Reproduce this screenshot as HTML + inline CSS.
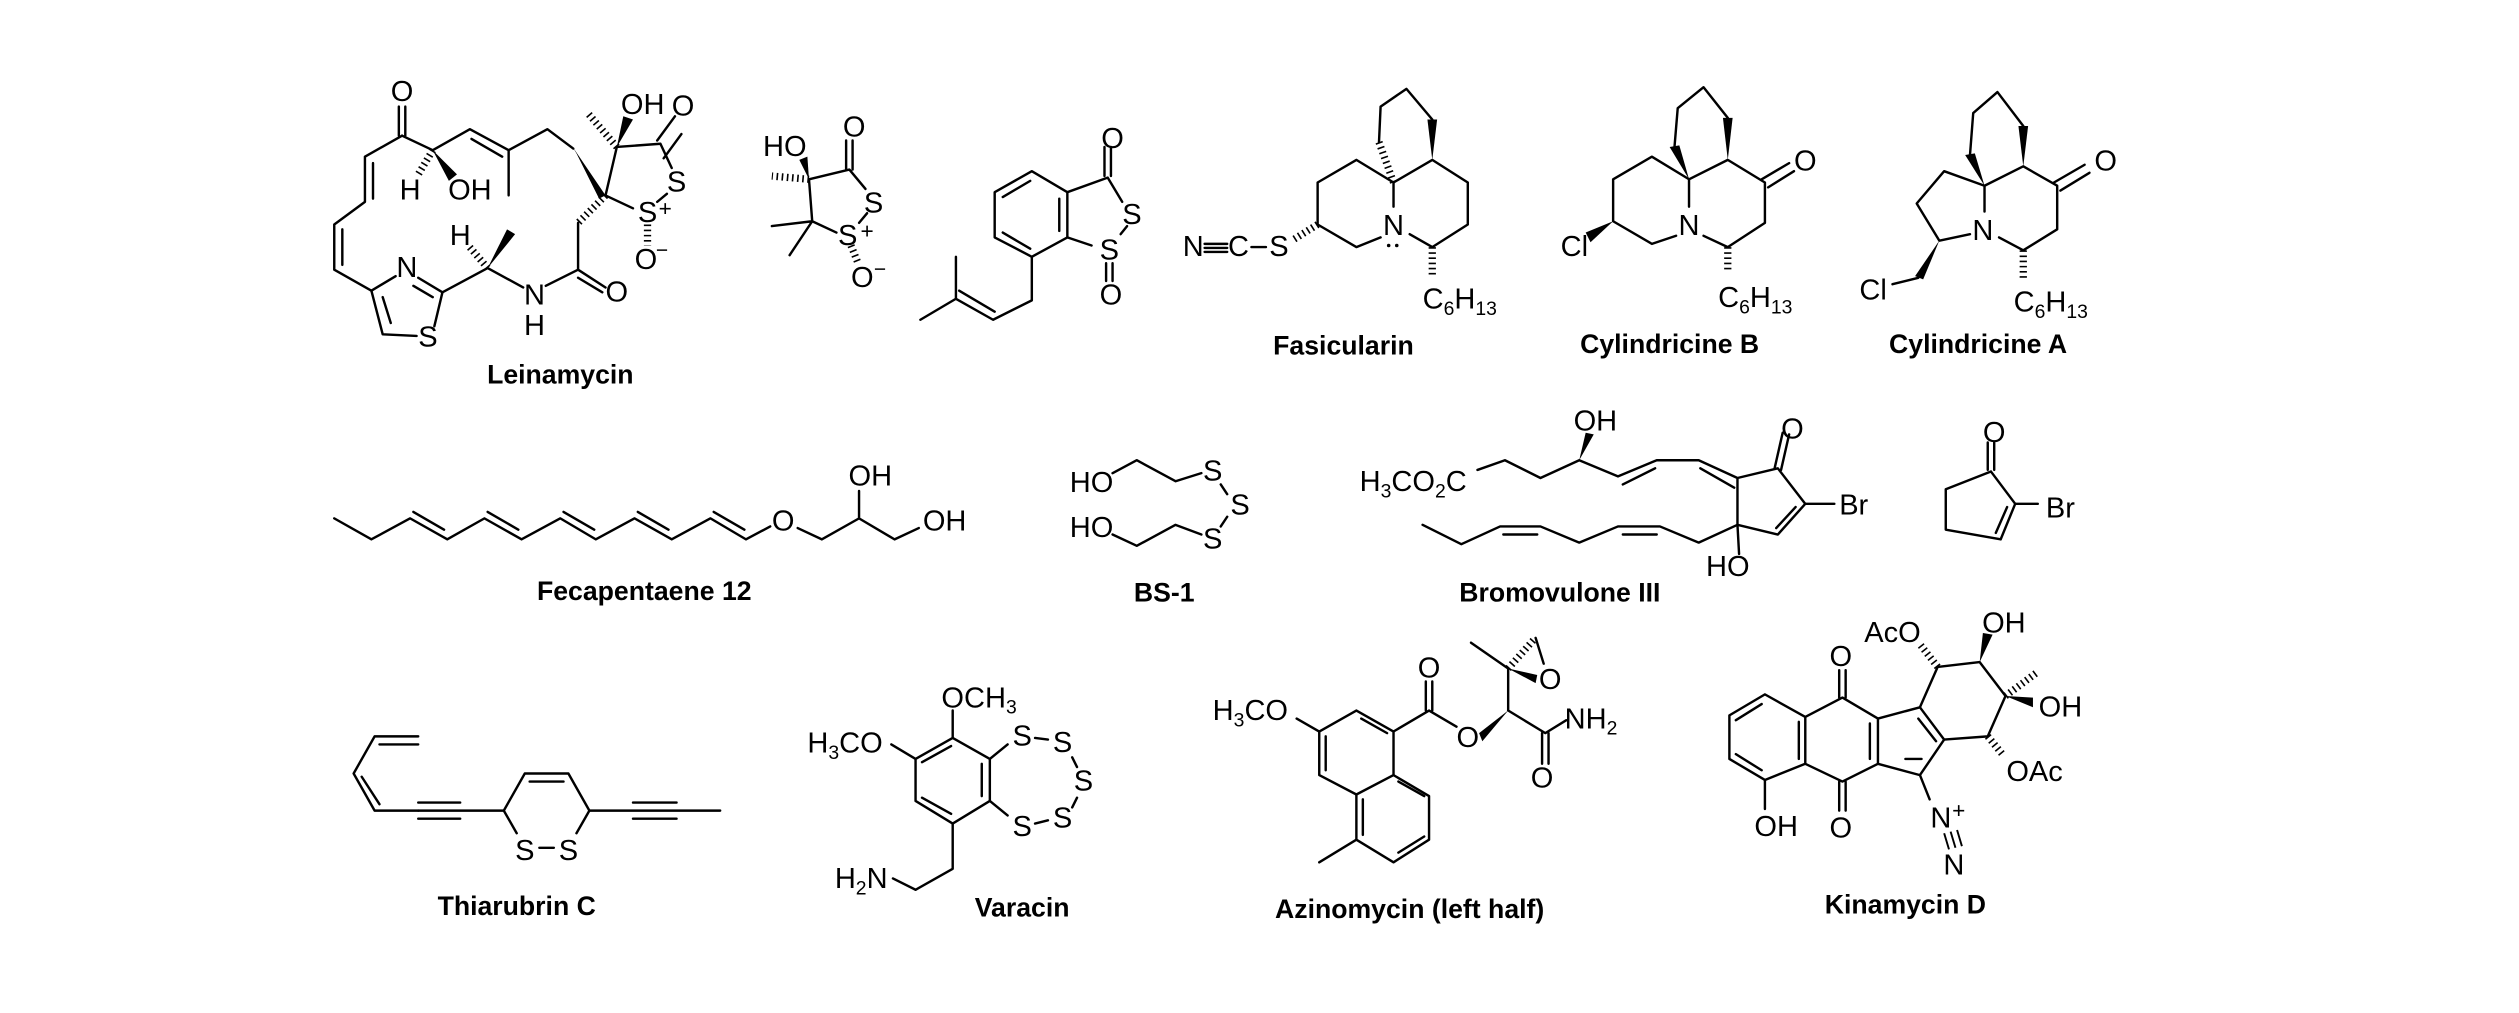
<!DOCTYPE html>
<html><head><meta charset="utf-8"><style>
html,body{margin:0;padding:0;background:#fff;}
svg{display:block;}
.b{stroke:#000;stroke-width:1.5;fill:none;stroke-linecap:round;stroke-linejoin:round;}
.h{stroke:#000;stroke-width:4.5;fill:none;stroke-dasharray:1 2.2;}
.w{fill:#000;stroke:none;}
text{font-family:"Liberation Sans",Arial,sans-serif;fill:#000;}
.a{font-size:18px;text-anchor:middle;dominant-baseline:central;}
.s{font-size:12px;}
.t{font-size:16.5px;font-weight:bold;text-anchor:middle;dominant-baseline:central;}
</style></head><body>
<svg width="2519" height="1013" viewBox="0 0 1560 627.3" xmlns="http://www.w3.org/2000/svg">
<rect width="1560" height="627.3" fill="#fff"/>

<!-- ===== Leinamycin ===== -->
<g class="b">
<path d="M247 84V66M251 84V66"/>
<path d="M249 84L226 97L226 125L207 139L207 167L230 180"/>
<path d="M231 101V123M212 142V164"/>
<path d="M230 180L245 171M259 172L274 181M256 177L268 184"/>
<path d="M274 181L269 202M258 208L237 207L230 180M242 200L237 184"/>
<path d="M274 181L302 166L324 178M338 177L358 167L375 178M358 172L373 181M358 167L358 138"/>
<path d="M375 121L382 91L409 89L416 104M411 98L422 83M407 87L418 72"/>
<path d="M413 120L407 125M375 121L392 129"/>
<path d="M355 92L339 80L315 93L315 121M315 93L291 80L268 93L249 84M292 86L311 97"/>
</g>
<polygon class="w" points="302,166 314,142 319,145"/>
<polygon class="w" points="375,121 354,90 357,95 371,123"/>
<polygon class="w" points="268,93 278,112 283,108"/>
<polygon class="w" points="382,91 386,72 392,74"/>
<line class="h" x1="268" y1="93" x2="259" y2="108"/>
<line class="h" x1="302" y1="166" x2="290" y2="152"/>
<line class="h" x1="375" y1="121" x2="358" y2="138"/>
<line class="h" x1="382" y1="91" x2="364" y2="70"/>
<line class="h" x1="401" y1="139" x2="401" y2="152"/>
<text class="a" x="249" y="57">O</text>
<text class="a" x="252" y="166">N</text>
<text class="a" x="265" y="209">S</text>
<text class="a" x="285" y="146">H</text>
<text class="a" x="254" y="118">H</text>
<text class="a" x="291" y="118">OH</text>
<text class="a" x="331" y="183">N</text>
<text class="a" x="331" y="202">H</text>
<text class="a" x="382" y="181">O</text>
<text class="a" x="398" y="65">OH</text>
<text class="a" x="423" y="66">O</text>
<text class="a" x="419" y="113">S</text>
<text class="a" x="401" y="132">S</text><text class="a" x="412" y="129" style="font-size:14px">+</text>
<text class="a" x="400" y="161">O</text><text class="a" x="410" y="155" style="font-size:13px">−</text>
<text class="t" x="347" y="232">Leinamycin</text>

<!-- ===== Dithiolanone ===== -->
<g class="b">
<path d="M501 111L526 105L536 117M524 105V87M528 105V87"/>
<path d="M501 111L503 137L518 144M503 137L478 140M503 137L489 158"/>
<path d="M537 132L532 138"/>
</g>
<polygon class="w" points="501,111 495,99 500,97"/>
<line class="h" x1="501" y1="111" x2="478" y2="109"/>
<line class="h" x1="527" y1="152" x2="531" y2="162"/>
<text class="a" x="486" y="91">HO</text>
<text class="a" x="529" y="79">O</text>
<text class="a" x="541" y="126">S</text>
<text class="a" x="525" y="146">S</text><text class="a" x="537" y="143" style="font-size:14px">+</text>
<text class="a" x="534" y="172">O</text><text class="a" x="545" y="167" style="font-size:13px">−</text>

<!-- ===== Benzodithiolone ===== -->
<g class="b">
<path d="M639 106L661 119L661 147L639 159L616 147L616 119Z"/>
<path d="M621 122L638 112M656 123V143M621 144L638 154"/>
<path d="M661 119L686 110L695 125M684 109V91M688 109V91"/>
<path d="M661 147L676 152M698 140L694 145"/>
<path d="M685 163V174M689 163V174"/>
<path d="M639 159L639 186L615 198L592 185L592 159M592 185L570 198M616 193L594 180"/>
</g>
<text class="a" x="689" y="86">O</text>
<text class="a" x="701" y="133">S</text>
<text class="a" x="687" y="155">S</text>
<text class="a" x="688" y="183">O</text>

<!-- ===== Fasicularin ===== -->
<g class="b">
<path d="M863 113V128M855 147L840 153L816 139L816 113L840 99L863 113"/>
<path d="M863 113L887 99L909 113L909 139L887 153L873 145"/>
<path d="M854 88L855 66L871 55L887 74"/>
<path d="M746 151H760M746 153.5H760M746 156H760M775 153H784"/>
</g>
<polygon class="w" points="887,99 884,74 890,74"/>
<line class="h" x1="863" y1="113" x2="854" y2="88"/>
<line class="h" x1="816" y1="139" x2="800" y2="149"/>
<line class="h" x1="887" y1="153" x2="887" y2="170"/>
<text class="a" x="739" y="153">N</text>
<text class="a" x="767" y="153">C</text>
<text class="a" x="792" y="153">S</text>
<text class="a" x="863" y="140">N</text>
<circle cx="860" cy="152" r="1.1"/><circle cx="865" cy="152" r="1.1"/>
<text x="881" y="191" style="font-size:18px">C<tspan class="s" dy="4">6</tspan><tspan dy="-4">H</tspan><tspan class="s" dy="4">13</tspan></text>
<text class="t" x="832" y="214">Fasicularin</text>

<!-- ===== Cylindricine B ===== -->
<g class="b">
<path d="M1046 111V128M1038 146L1023 151L999 137L999 111L1023 97L1046 111"/>
<path d="M1046 111L1070 99L1093 113L1093 138L1070 153L1055 146"/>
<path d="M1091 111L1108 101M1095 116L1111 106"/>
<path d="M1037 91L1039 67L1055 54L1070 73"/>
</g>
<polygon class="w" points="1070,99 1067,73 1073,73"/>
<polygon class="w" points="1046,111 1034,91 1040,90"/>
<polygon class="w" points="999,137 982,144 985,150"/>
<line class="h" x1="1070" y1="153" x2="1070" y2="168"/>
<text class="a" x="1046" y="140">N</text>
<text class="a" x="1118" y="100">O</text>
<text class="a" x="975" y="153">Cl</text>
<text x="1064" y="190" style="font-size:18px">C<tspan class="s" dy="4">6</tspan><tspan dy="-4">H</tspan><tspan class="s" dy="4">13</tspan></text>
<text class="t" x="1034" y="213">Cylindricine B</text>

<!-- ===== Cylindricine A ===== -->
<g class="b">
<path d="M1229 115V131M1220 145L1201 149L1187 126L1204 106L1229 115"/>
<path d="M1229 115L1253 103L1274 115L1274 142L1253 155L1238 147"/>
<path d="M1272 113L1291 102M1276 118L1294 107"/>
<path d="M1220 96L1222 70L1237 57L1253 78"/>
<path d="M1188 172L1172 176"/>
</g>
<polygon class="w" points="1253,103 1250,78 1256,78"/>
<polygon class="w" points="1229,115 1217,96 1223,95"/>
<polygon class="w" points="1201,149 1186,171 1191,173"/>
<line class="h" x1="1253" y1="155" x2="1253" y2="172"/>
<text class="a" x="1228" y="143">N</text>
<text class="a" x="1304" y="100">O</text>
<text class="a" x="1160" y="180">Cl</text>
<text x="1247" y="193" style="font-size:18px">C<tspan class="s" dy="4">6</tspan><tspan dy="-4">H</tspan><tspan class="s" dy="4">13</tspan></text>
<text class="t" x="1225" y="213">Cylindricine A</text>

<!-- ===== Fecapentaene 12 ===== -->
<g class="b">
<path d="M207 321L230 334L254 321L277 334L300 321L323 334L347 321L369 334L393 321L416 334L440 321L462 334L477 326"/>
<path d="M256 317L275 328M302 317L321 328M349 317L368 328M395 317L414 328M442 317L461 328"/>
<path d="M494 327L509 334L532 321L554 334L569 327M532 321V304"/>
</g>
<text class="a" x="485" y="323">O</text>
<text class="a" x="539" y="295">OH</text>
<text class="a" x="585" y="323">OH</text>
<text class="t" x="399" y="366">Fecapentaene 12</text>

<!-- ===== BS-1 ===== -->
<g class="b">
<path d="M689 293L704 285L728 298L744 293M756 300L760 306M760 320L756 326M744 331L728 325L704 338L689 331"/>
</g>
<text class="a" x="676" y="299">HO</text>
<text class="a" x="676" y="327">HO</text>
<text class="a" x="751" y="292">S</text>
<text class="a" x="768" y="313">S</text>
<text class="a" x="751" y="334">S</text>
<text class="t" x="721" y="367">BS-1</text>

<!-- ===== Bromovulone III ===== -->
<g class="b">
<path d="M915 291L932 285L954 296L978 285L1002 295L1026 285L1052 285L1076 296L1101 290L1118 312L1101 331L1076 325L1076 296"/>
<path d="M1005 300L1025 290M1053 290L1074 302M1112 314L1100 327"/>
<path d="M1099 290L1104 268M1103 291L1108 269M1118 312H1136M1076 325L1077 343"/>
<path d="M1076 325L1052 336L1028 326L1002 326L978 336L954 326L929 326L905 337L881 325"/>
<path d="M1005 331H1026M931 331H952"/>
</g>
<polygon class="w" points="978,285 982,268 987,269"/>
<text x="842" y="304" style="font-size:18px">H<tspan class="s" dy="4">3</tspan><tspan dy="-4">CO</tspan><tspan class="s" dy="4">2</tspan><tspan dy="-4">C</tspan></text>
<text class="a" x="988" y="261">OH</text>
<text class="a" x="1110" y="266">O</text>
<text class="a" x="1148" y="313">Br</text>
<text class="a" x="1070" y="351">HO</text>
<text class="t" x="966" y="367">Bromovulone III</text>

<!-- ===== 2-Bromocyclopentenone ===== -->
<g class="b">
<path d="M1233 292L1248 312L1239 334L1205 328L1205 303L1233 292M1243 314L1236 330"/>
<path d="M1231 291V274M1235 291V274M1248 312H1262"/>
</g>
<text class="a" x="1235" y="268">O</text>
<text class="a" x="1276" y="315">Br</text>

<!-- ===== Thiarubrin C ===== -->
<g class="b">
<path d="M259 456L232 456L219 479L232 502L259 502M235 461H259M224 481L235 498"/>
<path d="M259 497H285M259 502H312M259 507H285"/>
<path d="M312 502L325 479L352 479L365 502L357 516M312 502L320 516M328 484H349M334 525H343"/>
<path d="M365 502H446M392 497H419M392 507H419"/>
</g>
<text class="a" x="325" y="527">S</text>
<text class="a" x="352" y="527">S</text>
<text class="t" x="320" y="561">Thiarubrin C</text>

<!-- ===== Varacin ===== -->
<g class="b">
<path d="M590 457L613 470L613 496L590 510L567 496L567 470Z"/>
<path d="M571 472L589 462M608 473V493M571 494L589 504"/>
<path d="M590 457V440M567 470L552 461M613 470L624 461M613 496L624 505"/>
<path d="M641 457L649 458M664 469L667 475M667 494L664 500M641 510L649 508"/>
<path d="M590 510L590 538L567 551L553 544"/>
</g>
<text x="583" y="438" style="font-size:18px">OCH<tspan class="s" dy="4">3</tspan></text>
<text x="500" y="466" style="font-size:18px">H<tspan class="s" dy="4">3</tspan><tspan dy="-4">CO</tspan></text>
<text class="a" x="633" y="456">S</text>
<text class="a" x="658" y="460">S</text>
<text class="a" x="671" y="484">S</text>
<text class="a" x="658" y="507">S</text>
<text class="a" x="633" y="512">S</text>
<text x="517" y="550" style="font-size:18px">H<tspan class="s" dy="4">2</tspan><tspan dy="-4">N</tspan></text>
<text class="t" x="633" y="562">Varacin</text>

<!-- ===== Azinomycin ===== -->
<g class="b">
<path d="M840 440L863 453L863 480L840 492L817 480L817 453Z"/>
<path d="M863 480L885 493L885 520L863 534L840 520L840 492"/>
<path d="M843 445L859 454M821 456V477M866 484L882 493M866 528L882 518M844 495V517"/>
<path d="M840 520L817 534M817 453L803 445M863 453L885 440L902 450M883 440V422M887 440V422"/>
<path d="M934 440L934 414L911 398M934 440L957 454L970 446M955 454V473M959 454V473"/>
<path d="M951 395L956 411"/>
</g>
<polygon class="w" points="916,454 934,440 918,459"/>
<polygon class="w" points="934,414 952,418 951,423"/>
<line class="h" x1="934" y1="414" x2="950" y2="396"/>
<text x="751" y="446" style="font-size:18px">H<tspan class="s" dy="4">3</tspan><tspan dy="-4">CO</tspan></text>
<text class="a" x="885" y="414">O</text>
<text class="a" x="909" y="457">O</text>
<text class="a" x="960" y="421">O</text>
<text class="a" x="955" y="482">O</text>
<text x="969" y="451" style="font-size:18px">NH<tspan class="s" dy="4">2</tspan></text>
<text class="t" x="873" y="563">Azinomycin (left half)</text>

<!-- ===== Kinamycin D ===== -->
<g class="b">
<path d="M1093 430L1071 443L1071 470L1093 483L1118 473L1118 444Z"/>
<path d="M1075 446L1091 436M1075 467L1091 477M1114 447V470"/>
<path d="M1118 444L1141 432L1163 445L1163 473L1141 484L1118 473M1158 448V470"/>
<path d="M1139 432V415M1143 432V415M1139 484V502M1143 484V502M1093 483V501"/>
<path d="M1163 445L1189 438L1204 458L1189 480L1163 473M1188 445L1199 459M1180 470H1190"/>
<path d="M1189 480L1195 495M1189 438L1200 413L1226 410L1242 431L1231 456L1204 458"/>
</g>
<line class="h" x1="1200" y1="413" x2="1189" y2="399"/>
<polygon class="w" points="1226,410 1228,392 1234,393"/>
<line class="h" x1="1242" y1="431" x2="1262" y2="416"/>
<polygon class="w" points="1242,431 1259,432 1259,438"/>
<line class="h" x1="1231" y1="456" x2="1240" y2="467"/>
<line x1="1204" y1="516" x2="1207" y2="526" stroke="#000" stroke-width="1.2"/>
<line x1="1208" y1="515" x2="1211" y2="525" stroke="#000" stroke-width="1.2"/>
<line x1="1212" y1="514" x2="1215" y2="524" stroke="#000" stroke-width="1.2"/>
<text class="a" x="1140" y="407">O</text>
<text class="a" x="1140" y="513">O</text>
<text class="a" x="1100" y="512">OH</text>
<text class="a" x="1172" y="392">AcO</text>
<text class="a" x="1241" y="386">OH</text>
<text class="a" x="1276" y="438">OH</text>
<text class="a" x="1260" y="478">OAc</text>
<text class="a" x="1202" y="507">N</text><text class="a" x="1213" y="502" style="font-size:14px">+</text>
<text class="a" x="1210" y="536">N</text>
<text class="t" x="1180" y="560">Kinamycin D</text>
</svg>
</body></html>
